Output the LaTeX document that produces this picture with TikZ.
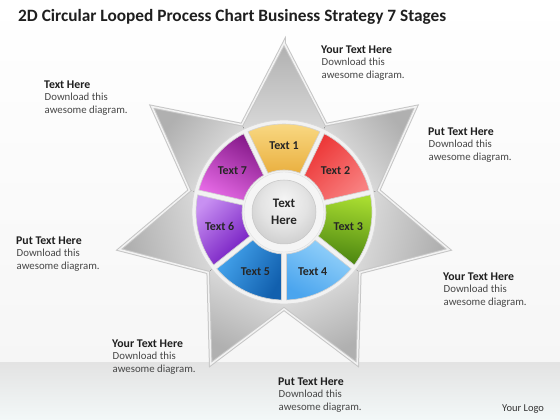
\documentclass[tikz,border=0pt]{standalone}
\usepackage{fontspec}
\setmainfont{Carlito}
\definecolor{TAa}{HTML}{F9DA85}\definecolor{TAb}{HTML}{EAB040}
\definecolor{TBa}{HTML}{EC3535}\definecolor{TBb}{HTML}{F88080}
\definecolor{TCa}{HTML}{A8DC30}\definecolor{TCb}{HTML}{4A8410}
\definecolor{TDa}{HTML}{95D2FA}\definecolor{TDb}{HTML}{4BA5EE}
\definecolor{TEa}{HTML}{45A5EE}\definecolor{TEb}{HTML}{1260AE}
\definecolor{TFa}{HTML}{C890F2}\definecolor{TFb}{HTML}{7218C0}
\definecolor{TGa}{HTML}{861A8A}\definecolor{TGb}{HTML}{E468E4}
\definecolor{bandlow}{HTML}{F3F8F8}
\pgfdeclareradialshading{sph}{\pgfpoint{0bp}{10bp}}{color(0bp)=(gray!8); color(18bp)=(gray!22); color(35bp)=(gray!45); color(50bp)=(gray!62)}
\tikzset{
  hdtxt/.style={anchor=base west, inner sep=0pt, font=\bfseries\fontsize{11.8}{14}\selectfont, text=black!88},
  bdtxt/.style={anchor=base west, inner sep=0pt, font=\fontsize{10.8}{13}\selectfont, text=black!72},
  seglbl/.style={inner sep=0pt, font=\bfseries\fontsize{12}{13}\selectfont, text=black!85},
  ctrlbl/.style={inner sep=0pt, align=center, font=\bfseries\fontsize{13}{17}\selectfont, text=black!85},
}
\newcommand\txtblk[4]{%
  \node[hdtxt] (#1h) at (#2,#3) {#4};
  \node[bdtxt] (#1a) at (#2+0.5,#3-12) {Download this};
  \node[bdtxt] (#1b) at (#2+0.5,#3-24.5) {awesome diagram.};}
\begin{document}
\begin{tikzpicture}[x=1pt,y=1pt]
\useasboundingbox (0,0) rectangle (560,420);
% background
\fill[top color=white, bottom color=gray!7] (0,57) rectangle (560,420);
\fill[top color=gray!22, bottom color=bandlow] (0,0) rectangle (560,57);
% star
\begin{scope}[shift={(284,208)}]
\foreach \k in {0,...,6}{
  \pgfmathsetmacro\t{90+51.4286*\k}
  \pgfmathsetmacro\sa{\t-90}
  \fill[top color=gray!62, bottom color=white, shading angle=\sa]
    (0,0) -- (\t-25.714:97) -- (\t:169) -- (\t+25.714:97) -- cycle;
}
\draw[line width=3.5, gray!45, line join=miter]
  (90:169) \foreach \k in {0,...,6}{ -- (90+51.4286*\k+25.714:97) -- (90+51.4286*\k+51.4286:169)} -- cycle;
\draw[line width=1.5, gray!10, line join=miter]
  (90:169) \foreach \k in {0,...,6}{ -- (90+51.4286*\k+25.714:97) -- (90+51.4286*\k+51.4286:169)} -- cycle;
% ring
\fill[gray!10] (0,0) circle (92);
\draw[gray!30, line width=0.8] (0,0) circle (92);
\foreach \k/\ca/\cb/\ph in {1/TAa/TAb/90, 2/TBa/TBb/135, 3/TCa/TCb/80, 4/TDa/TDb/60, 5/TEa/TEb/150, 6/TFa/TFb/135, 7/TGa/TGb/60}{
  \pgfmathsetmacro\t{90-51.4286*(\k-1)}
  \pgfmathsetmacro\sa{\ph-90}
  \draw[gray!35, line width=0.6, top color=\ca, bottom color=\cb, shading angle=\sa]
    (\t+24.1:88) arc[start angle=\t+24.1, end angle=\t-24.1, radius=88]
    -- (\t-22.3:42) arc[start angle=\t-22.3, end angle=\t+22.3, radius=42] -- cycle;
  \node[seglbl] (s\k) at (\t:66) {Text \k};
}
% centre
\fill[gray!8] (0,0) circle (40);
\draw[gray!25] (0,0) circle (40);
\shade[shading=sph] (0,0) circle (32);
\draw[gray!45, line width=0.5] (0,0) circle (32);
\node[ctrlbl] (c) at (0,0) {Text\\Here};
\end{scope}
% title
\node[anchor=base west, inner sep=0pt, font=\bfseries\fontsize{17.3}{20}\selectfont, text=black!88] (title) at (18,398.5)
  {2D Circular Looped Process Chart Business Strategy 7 Stages};
% text blocks
\txtblk{ba}{321}{366}{Your Text Here}
\txtblk{bb}{44}{331}{Text Here}
\txtblk{bc}{428}{284}{Put Text Here}
\txtblk{bd}{16}{175}{Put Text Here}
\txtblk{be}{443}{139}{Your Text Here}
\txtblk{bf}{112}{72}{Your Text Here}
\txtblk{bg}{278}{34}{Put Text Here}
\node[anchor=base west, inner sep=0pt, font=\fontsize{10.5}{12}\selectfont, text=black!80] (logo) at (502,8.5) {Your Logo};
\end{tikzpicture}
\end{document}
